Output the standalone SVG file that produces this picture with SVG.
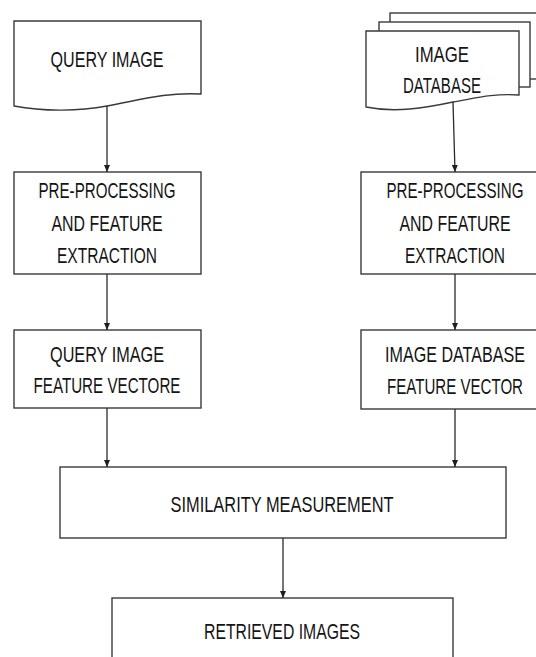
<svg xmlns="http://www.w3.org/2000/svg" width="536" height="657" viewBox="0 0 536 657">
  <style>
    .shape { fill: #ffffff; stroke: #3a3a3a; stroke-width: 1.4; }
    .lbl { font-family: "Liberation Sans", Arial, sans-serif; font-size: 22px; fill: #141414; text-anchor: middle; }
    .edge { fill: none; stroke: #2a2a2a; stroke-width: 1.3; marker-end: url(#arrow); }
  </style>
  <defs>
    <marker id="arrow" viewBox="0 0 10 10" refX="10" refY="5" markerUnits="userSpaceOnUse" markerWidth="7" markerHeight="6" orient="auto" preserveAspectRatio="none">
      <path d="M0,0 L10,5 L0,10 z" fill="#1e1e1e"/>
    </marker>
  </defs>

  <rect width="536" height="657" fill="#ffffff"/>

  <!-- Query image document -->
  <g id="query-image">
    <path class="shape" d="M14,21 H201 V94 C165,92 140,100 107,106 C80,111 45,112 14,106 Z"/>
    <text class="lbl" x="107" y="67" textLength="113" lengthAdjust="spacingAndGlyphs">QUERY IMAGE</text>
  </g>

  <!-- Image database: stacked documents -->
  <g id="image-database">
    <rect class="shape" x="390" y="13" width="160" height="66"/>
    <rect class="shape" x="379" y="22" width="151" height="65"/>
    <path class="shape" d="M366,31 H519 V95 C492,93 472,99 453,102 C425,108 395,113 366,107 Z"/>
    <text class="lbl" x="442" y="62" textLength="54" lengthAdjust="spacingAndGlyphs">IMAGE</text>
    <text class="lbl" x="442" y="93" textLength="78" lengthAdjust="spacingAndGlyphs">DATABASE</text>
  </g>

  <!-- Left pre-processing -->
  <g id="preprocess-query">
    <rect class="shape" x="14" y="172" width="187" height="102"/>
    <text class="lbl" x="107" y="198" textLength="137" lengthAdjust="spacingAndGlyphs">PRE-PROCESSING</text>
    <text class="lbl" x="107" y="231" textLength="111" lengthAdjust="spacingAndGlyphs">AND FEATURE</text>
    <text class="lbl" x="107" y="263" textLength="100" lengthAdjust="spacingAndGlyphs">EXTRACTION</text>
  </g>

  <!-- Right pre-processing (box runs past the right edge) -->
  <g id="preprocess-database">
    <rect class="shape" x="361" y="172" width="190" height="102"/>
    <text class="lbl" x="455" y="198" textLength="137" lengthAdjust="spacingAndGlyphs">PRE-PROCESSING</text>
    <text class="lbl" x="455" y="231" textLength="111" lengthAdjust="spacingAndGlyphs">AND FEATURE</text>
    <text class="lbl" x="455" y="263" textLength="100" lengthAdjust="spacingAndGlyphs">EXTRACTION</text>
  </g>

  <!-- Feature vectors -->
  <g id="query-vector">
    <rect class="shape" x="14" y="330" width="187" height="78"/>
    <text class="lbl" x="107" y="362" textLength="114" lengthAdjust="spacingAndGlyphs">QUERY IMAGE</text>
    <text class="lbl" x="107" y="393" textLength="147" lengthAdjust="spacingAndGlyphs">FEATURE VECTORE</text>
  </g>

  <g id="database-vector">
    <rect class="shape" x="361" y="330" width="190" height="79"/>
    <text class="lbl" x="455" y="362" textLength="140" lengthAdjust="spacingAndGlyphs">IMAGE DATABASE</text>
    <text class="lbl" x="455" y="394" textLength="136" lengthAdjust="spacingAndGlyphs">FEATURE VECTOR</text>
  </g>

  <!-- Similarity measurement -->
  <g id="similarity">
    <rect class="shape" x="60" y="467" width="446" height="71"/>
    <text class="lbl" x="282" y="512" textLength="223" lengthAdjust="spacingAndGlyphs">SIMILARITY MEASUREMENT</text>
  </g>

  <!-- Retrieved images (box runs past the bottom edge) -->
  <g id="retrieved">
    <rect class="shape" x="112" y="598" width="341" height="70"/>
    <text class="lbl" x="282" y="639" textLength="156" lengthAdjust="spacingAndGlyphs">RETRIEVED IMAGES</text>
  </g>

  <!-- Connectors -->
  <g id="connectors">
    <line class="edge" x1="107" y1="106" x2="107" y2="172"/>
    <line class="edge" x1="107" y1="274" x2="107" y2="330"/>
    <line class="edge" x1="107" y1="408" x2="107" y2="467"/>
    <line class="edge" x1="453" y1="102" x2="455" y2="172"/>
    <line class="edge" x1="455" y1="274" x2="455" y2="330"/>
    <line class="edge" x1="455" y1="409" x2="455" y2="467"/>
    <line class="edge" x1="283" y1="538" x2="283" y2="598"/>
  </g>
</svg>
